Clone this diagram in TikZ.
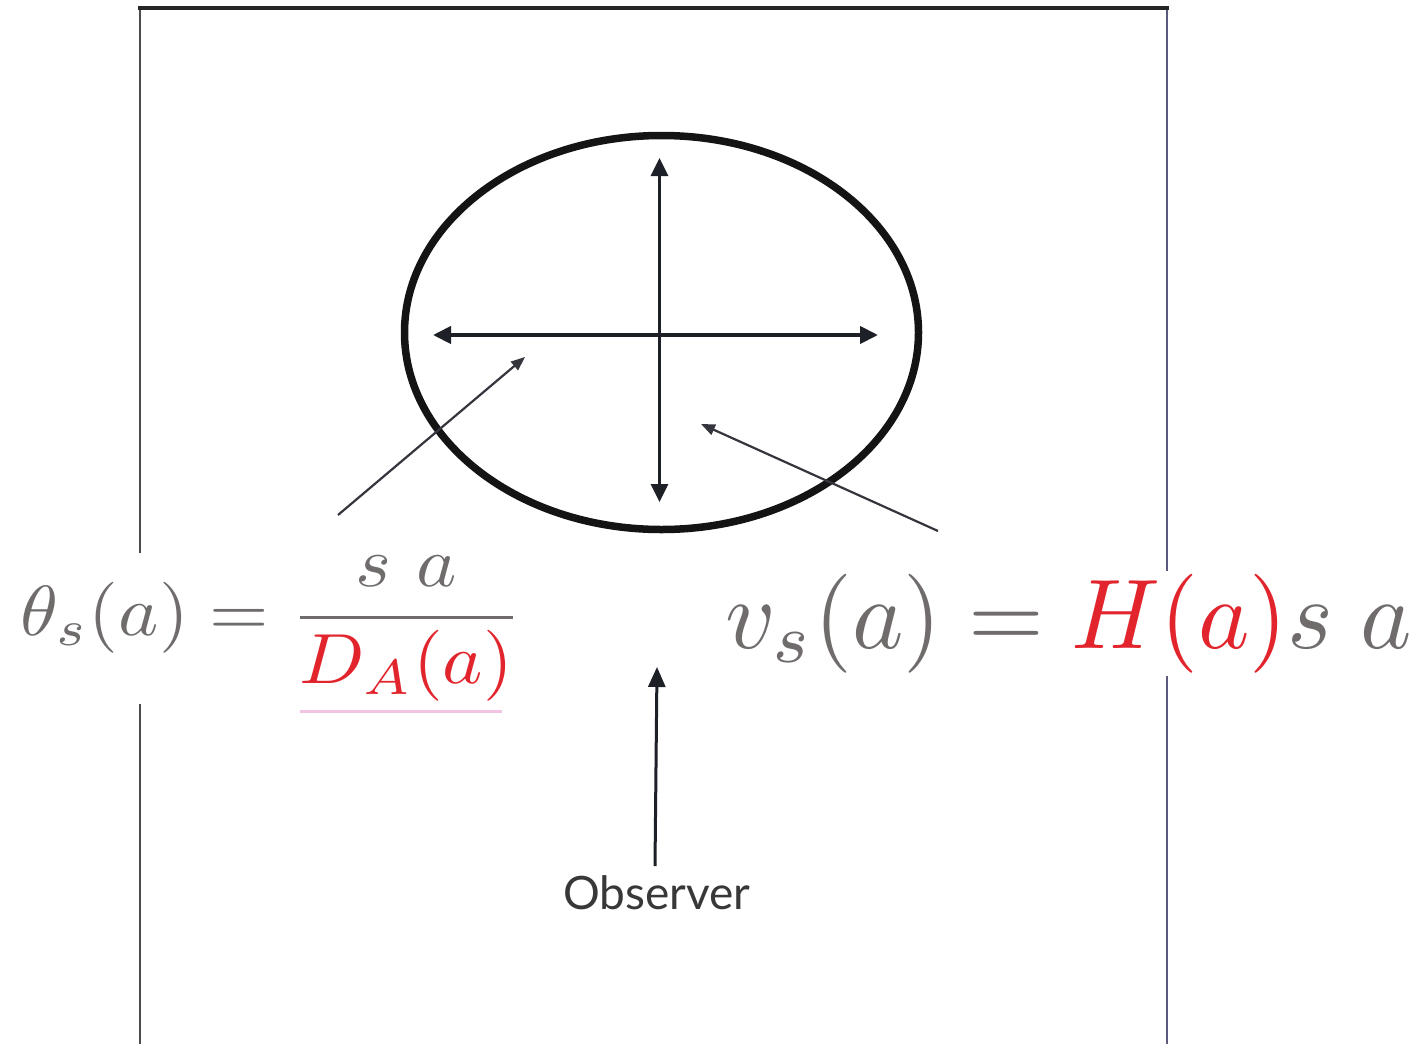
\documentclass[tikz,border=0pt]{standalone}
\usepackage{fontspec}
\usepackage{amsmath}
\usepackage{graphicx}
\usetikzlibrary{arrows.meta,shapes.geometric}
\newfontfamily\obsfont{Lato}
\definecolor{eqgray}{RGB}{112,108,108}
\definecolor{eqred}{RGB}{226,36,44}
\definecolor{framebl}{RGB}{90,90,125}
\definecolor{arrowdk}{RGB}{30,32,40}
\definecolor{ulpink}{RGB}{242,196,226}
\tikzset{
  axisarrow/.style={line width=4pt, draw=arrowdk, {Triangle[length=18pt,width=17pt]}-{Triangle[length=18pt,width=17pt]}},
  pointer/.style={line width=2.2pt, draw=arrowdk!90, -{Triangle[length=14pt,width=11pt]}},
  eqnode/.style={fill=white, inner sep=3pt, text=eqgray, anchor=base west},
}
\begin{document}
\begin{tikzpicture}[x=1pt,y=-1pt]
\useasboundingbox (0,0) rectangle (1418,1044);
\fill[white] (0,0) rectangle (1418,1044);

% frame (open at bottom)
\coordinate (fTL) at (140,8);
\coordinate (fTR) at (1167,8);
\coordinate (fBL) at (140,1044);
\coordinate (fBR) at (1167,1044);
\draw[line width=2pt, black!70] (fBL) -- (fTL);
\draw[line width=2pt, framebl] (fTR) -- (fBR);
\draw[line width=3.5pt, black!85, line cap=rect] (fTL) -- (fTR);

% ellipse
\node[draw=black!92, ellipse, line width=7.5pt, minimum width=514pt, minimum height=394pt, inner sep=0pt] (cloud) at (661.5,332.5) {};

% axes
\coordinate (hL) at (433,335);
\coordinate (hR) at (878,335);
\coordinate (vT) at (659.5,158);
\coordinate (vB) at (659.5,502);
\draw[axisarrow] (hL) -- (hR);
\draw[axisarrow, line width=3pt] (vT) -- (vB);

% formulas
\node[eqnode] (thetaeq) at (17,635)
  {\scalebox{7.65}[7.1]{$\displaystyle \theta_s(a) = \frac{s\ a}{\textcolor{eqred}{D_A(a)}}$}};
\coordinate (ul1) at (300,711);
\coordinate (ul2) at (502,711);
\draw[line width=3pt, ulpink] (ul1) -- (ul2);

\node[eqnode] (veq) at (722,648)
  {\scalebox{9.75}[9.9]{$v_s(a) = \textcolor{eqred}{H(a)}s\;a$}};

% pointers
\coordinate (p1s) at (338,515);
\coordinate (p1e) at (525,357);
\coordinate (p2s) at (938,531);
\coordinate (p2e) at (701,424);
\draw[pointer] (p1s) -- (p1e);
\draw[pointer] (p2s) -- (p2e);

% observer
\node[inner sep=0pt, text=black!78] (obs) at (657,893) {\obsfont\fontsize{46}{46}\selectfont Observer};
\coordinate (obsT) at (655,866);
\coordinate (obsH) at (657,667);
\draw[line width=3pt, draw=arrowdk, -{Triangle[length=20pt,width=17pt]}] (obsT) -- (obsH);
\end{tikzpicture}
\end{document}
